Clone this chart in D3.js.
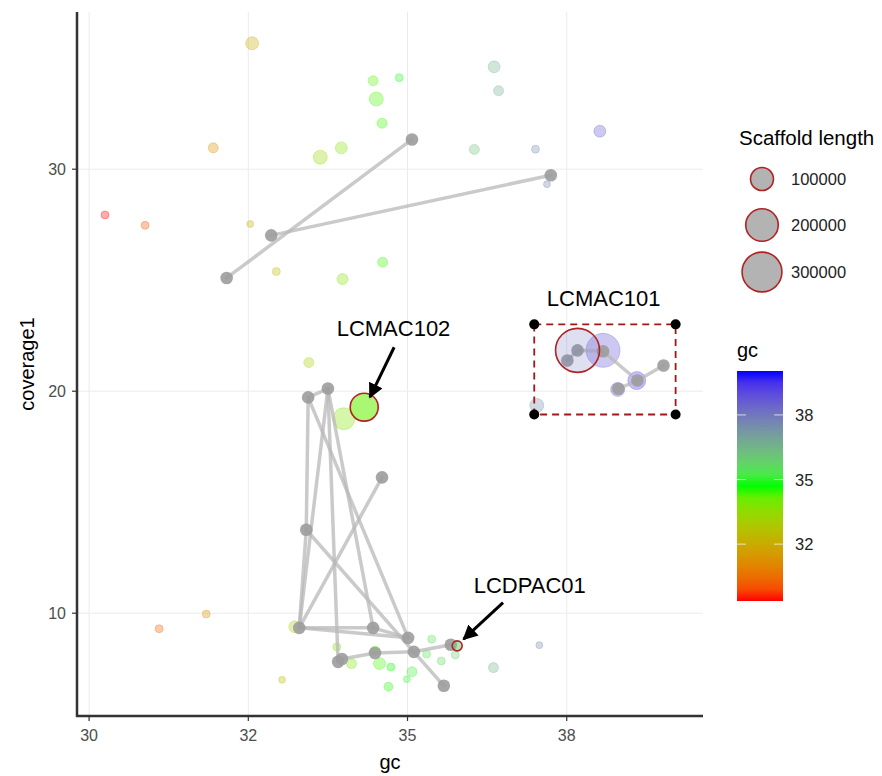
<!DOCTYPE html>
<html>
<head>
<meta charset="utf-8">
<script src="https://cdn.jsdelivr.net/npm/d3@7"></script>
<style>
  html, body { margin: 0; padding: 0; background: #fff; }
  svg { display: block; font-family: "Liberation Sans", Arial, sans-serif; }
</style>
</head>
<body>
<svg id="chart" width="882" height="776"></svg>
<script>
// scaffolds: [gc, coverage1, scaffold length]
const scaffolds = [
  [32.56, 35.67, 32000], [34.46, 33.98, 19000], [34.51, 33.16, 37000], [34.60, 32.07, 19000],
  [31.95, 30.96, 19000], [33.63, 30.54, 37000], [33.96, 30.96, 27000], [30.25, 27.94, 12000],
  [30.88, 27.47, 12000], [32.53, 27.53, 9000], [32.94, 25.39, 12000], [33.98, 25.05, 23000],
  [34.61, 25.81, 19000], [34.87, 34.12, 12000], [36.36, 34.61, 27000], [36.43, 33.53, 19000],
  [36.05, 30.89, 19000], [37.01, 30.90, 12000], [38.02, 31.71, 27000], [37.19, 29.32, 9000],
  [33.45, 21.29, 19000], [34.00, 18.76, 91000], [37.03, 19.36, 37000], [38.07, 21.84, 218000],
  [38.30, 20.08, 37000], [38.60, 20.48, 61000], [31.84, 9.96, 12000], [31.10, 9.30, 12000],
  [33.03, 7.00, 9000], [35.38, 8.83, 12000], [35.30, 8.16, 12000], [35.53, 7.85, 12000],
  [35.75, 8.12, 12000], [35.07, 7.36, 19000], [34.99, 7.03, 9000], [34.70, 6.69, 15000],
  [34.56, 7.73, 27000], [34.74, 7.58, 12000], [34.12, 7.73, 19000], [33.89, 8.48, 12000],
  [34.49, 8.30, 19000], [33.23, 9.39, 27000], [36.35, 7.55, 19000], [37.07, 8.56, 9000]
];

const highlighted = [
  { name: 'LCMAC102', gc: 34.32, cov: 19.28, len: 148000 },
  { name: 'LCMAC101', gc: 37.67, cov: 21.84, len: 366000 },
  { name: 'LCDPAC01', gc: 35.78, cov: 8.53, len: 19000 }
];

// grey linked scaffolds: [id, gc, coverage1]
const linkedNodes = [
  ['T1', 32.16, 25.10], ['T2', 35.07, 31.34], ['T3', 32.86, 27.02], ['T4', 37.25, 29.73],
  ['B1', 37.51, 21.38], ['B2', 37.67, 21.84], ['B3', 38.07, 21.80], ['B4', 38.31, 20.11],
  ['B5', 38.61, 20.48], ['B6', 39.02, 21.16],
  ['P1', 33.44, 19.72], ['P2', 33.75, 20.12], ['P3', 34.60, 16.12], ['P4', 33.41, 13.76],
  ['P5', 33.30, 9.34], ['P6', 34.46, 9.34], ['P7', 35.01, 8.89], ['P8', 35.10, 8.26],
  ['P9', 34.49, 8.21], ['P10', 33.91, 7.81], ['P11', 35.57, 6.73], ['P12', 35.68, 8.58],
  ['P13', 33.97, 7.94]
];

const linkedSegments = [
  ['T1', 'T2'], ['T3', 'T4'],
  ['B1', 'B2'], ['B2', 'B3'], ['B3', 'B5'], ['B4', 'B5'], ['B5', 'B6'],
  ['P1', 'P2'], ['P1', 'P4'], ['P4', 'P5'], ['P2', 'P5'], ['P2', 'P10'], ['P1', 'P7'],
  ['P2', 'P6'], ['P3', 'P5'], ['P4', 'P11'], ['P5', 'P6'], ['P5', 'P7'], ['P6', 'P7'],
  ['P13', 'P9'], ['P9', 'P8'], ['P8', 'P12']
];

// dashed selection box around LCMAC101
const boxGc = [36.99, 39.21];
const boxCov = [18.95, 23.01];

// label text position and arrow (from -> to), in data units
const annotations = [
  { label: 'LCMAC102', gc: 34.78, cov: 22.84, arrow: [[34.79, 21.98], [34.41, 19.73]] },
  { label: 'LCMAC101', gc: 38.08, cov: 24.18, arrow: null },
  { label: 'LCDPAC01', gc: 36.92, cov: 11.24, arrow: [[36.50, 10.48], [35.88, 8.83]] }
];

const xTicks = [30, 32.5, 35, 37.5];
const xTickLabels = ['30', '32', '35', '38'];
const yTicks = [10, 20, 30];
const yTickLabels = ['10', '20', '30'];
const gcBarTicks = [32.5, 35, 37.5];
const gcBarLabels = ['32', '35', '38'];
const sizeLegend = [100000, 200000, 300000];

const svg = d3.select('#chart');
const panel = { left: 77, right: 703, top: 12, bottom: 716 };

const x = d3.scaleLinear().domain([29.81, 39.64]).range([panel.left, panel.right]);
const y = d3.scaleLinear().domain([5.37, 37.08]).range([panel.bottom, panel.top]);
const r = d3.scaleSqrt().domain([0, 100000]).range([0, 11.5]);
const gcRange = [30.3, 39.2];
const colour = d3.scaleLinear()
  .domain([gcRange[0], (gcRange[0] + gcRange[1]) / 2, gcRange[1]])
  .range(['#ff0000', '#00ff00', '#0000ff'])
  .interpolate(d3.interpolateLab);

// grid
const grid = svg.append('g').attr('stroke', '#ebebeb').attr('stroke-width', 1);
grid.selectAll('line.gx').data(xTicks).enter().append('line')
  .attr('x1', (d) => x(d)).attr('x2', (d) => x(d))
  .attr('y1', panel.top).attr('y2', panel.bottom);
grid.selectAll('line.gy').data(yTicks).enter().append('line')
  .attr('y1', (d) => y(d)).attr('y2', (d) => y(d))
  .attr('x1', panel.left).attr('x2', panel.right);

// coloured scaffold points
svg.append('g').selectAll('circle').data(scaffolds).enter().append('circle')
  .attr('cx', (d) => x(d[0])).attr('cy', (d) => y(d[1])).attr('r', (d) => r(d[2]))
  .attr('fill', (d) => colour(d[0])).attr('fill-opacity', 0.33)
  .attr('stroke', (d) => colour(d[0])).attr('stroke-opacity', 0.3).attr('stroke-width', 1);

// grey links
const nodeById = new Map(linkedNodes.map((d) => [d[0], d]));
svg.append('g').selectAll('line').data(linkedSegments).enter().append('line')
  .attr('x1', (d) => x(nodeById.get(d[0])[1])).attr('y1', (d) => y(nodeById.get(d[0])[2]))
  .attr('x2', (d) => x(nodeById.get(d[1])[1])).attr('y2', (d) => y(nodeById.get(d[1])[2]))
  .attr('stroke', '#b8b8b8').attr('stroke-opacity', 0.75).attr('stroke-width', 3.5)
  .attr('stroke-linecap', 'round');
svg.append('g').selectAll('circle').data(linkedNodes).enter().append('circle')
  .attr('cx', (d) => x(d[1])).attr('cy', (d) => y(d[2])).attr('r', 6.3)
  .attr('fill', '#9c9c9c').attr('fill-opacity', 0.9);

// highlighted scaffolds, on top
svg.append('g').selectAll('circle').data(highlighted).enter().append('circle')
  .attr('cx', (d) => x(d.gc)).attr('cy', (d) => y(d.cov)).attr('r', (d) => r(d.len))
  .attr('fill', (d) => colour(d.gc))
  .attr('fill-opacity', (d) => (d.name === 'LCMAC102' ? 0.55 : (d.name === 'LCDPAC01' ? 0.5 : 0.22)))
  .attr('stroke', '#b22222').attr('stroke-width', 1.6);

// dashed box
svg.append('rect')
  .attr('x', x(boxGc[0])).attr('y', y(boxCov[1]))
  .attr('width', x(boxGc[1]) - x(boxGc[0])).attr('height', y(boxCov[0]) - y(boxCov[1]))
  .attr('fill', 'none').attr('stroke', '#a01818').attr('stroke-width', 1.8)
  .attr('stroke-dasharray', '7,5');
const corners = [];
boxGc.forEach((g) => boxCov.forEach((c) => corners.push([g, c])));
svg.append('g').selectAll('circle').data(corners).enter().append('circle')
  .attr('cx', (d) => x(d[0])).attr('cy', (d) => y(d[1])).attr('r', 5).attr('fill', '#000');

// annotations
svg.append('defs').append('marker')
  .attr('id', 'head').attr('viewBox', '0 0 10 10').attr('refX', 9).attr('refY', 5)
  .attr('markerWidth', 5).attr('markerHeight', 5).attr('markerUnits', 'strokeWidth')
  .attr('orient', 'auto')
  .append('path').attr('d', 'M0,0 L10,5 L0,10 z').attr('fill', '#000');
const ann = svg.append('g');
ann.selectAll('text').data(annotations).enter().append('text')
  .attr('x', (d) => x(d.gc)).attr('y', (d) => y(d.cov))
  .attr('text-anchor', 'middle').attr('dominant-baseline', 'central')
  .attr('font-size', 22).attr('fill', '#000').text((d) => d.label);
ann.selectAll('line').data(annotations.filter((d) => d.arrow)).enter().append('line')
  .attr('x1', (d) => x(d.arrow[0][0])).attr('y1', (d) => y(d.arrow[0][1]))
  .attr('x2', (d) => x(d.arrow[1][0])).attr('y2', (d) => y(d.arrow[1][1]))
  .attr('stroke', '#000').attr('stroke-width', 3).attr('marker-end', 'url(#head)');

// axes
const axisCol = '#333';
svg.append('line').attr('x1', panel.left).attr('x2', panel.left)
  .attr('y1', panel.top).attr('y2', panel.bottom + 1).attr('stroke', axisCol).attr('stroke-width', 2.5);
svg.append('line').attr('x1', panel.left - 1).attr('x2', panel.right)
  .attr('y1', panel.bottom).attr('y2', panel.bottom).attr('stroke', axisCol).attr('stroke-width', 2.5);

const xt = svg.append('g');
xt.selectAll('line').data(xTicks).enter().append('line')
  .attr('x1', (d) => x(d)).attr('x2', (d) => x(d))
  .attr('y1', panel.bottom).attr('y2', panel.bottom + 5).attr('stroke', axisCol).attr('stroke-width', 1.2);
xt.selectAll('text').data(xTicks).enter().append('text')
  .attr('x', (d) => x(d)).attr('y', panel.bottom + 25).attr('text-anchor', 'middle')
  .attr('font-size', 16).attr('fill', '#4d4d4d').text((d, i) => xTickLabels[i]);

const yt = svg.append('g');
yt.selectAll('line').data(yTicks).enter().append('line')
  .attr('y1', (d) => y(d)).attr('y2', (d) => y(d))
  .attr('x1', panel.left - 5).attr('x2', panel.left).attr('stroke', axisCol).attr('stroke-width', 1.2);
yt.selectAll('text').data(yTicks).enter().append('text')
  .attr('x', panel.left - 11).attr('y', (d) => y(d)).attr('text-anchor', 'end')
  .attr('dominant-baseline', 'central')
  .attr('font-size', 16).attr('fill', '#4d4d4d').text((d, i) => yTickLabels[i]);

svg.append('text').attr('x', (panel.left + panel.right) / 2).attr('y', 769)
  .attr('text-anchor', 'middle').attr('font-size', 20).text('gc');
svg.append('text').attr('transform', `translate(34, ${(panel.top + panel.bottom) / 2}) rotate(-90)`)
  .attr('text-anchor', 'middle').attr('font-size', 20).text('coverage1');

// size legend
svg.append('text').attr('x', 739).attr('y', 145).attr('font-size', 20.5).text('Scaffold length');
const sizeY = [179, 225, 272];
const sl = svg.append('g');
sl.selectAll('circle').data(sizeLegend).enter().append('circle')
  .attr('cx', 762).attr('cy', (d, i) => sizeY[i]).attr('r', (d) => r(d))
  .attr('fill', '#b3b3b3').attr('stroke', '#b22222').attr('stroke-width', 1.6);
sl.selectAll('text').data(sizeLegend).enter().append('text')
  .attr('x', 791).attr('y', (d, i) => sizeY[i]).attr('dominant-baseline', 'central')
  .attr('font-size', 16.5).attr('fill', '#222').text((d) => d);

// colour bar legend
svg.append('text').attr('x', 737).attr('y', 357).attr('font-size', 20).text('gc');
const bar = { x: 737, w: 46, top: 371, bottom: 601 };
const barY = d3.scaleLinear().domain(gcRange).range([bar.bottom, bar.top]);
const grad = svg.select('defs').append('linearGradient')
  .attr('id', 'gcgrad').attr('x1', 0).attr('y1', 1).attr('x2', 0).attr('y2', 0);
grad.selectAll('stop').data(d3.range(0, 1.0001, 0.05)).enter().append('stop')
  .attr('offset', (d) => d)
  .attr('stop-color', (d) => colour(gcRange[0] + d * (gcRange[1] - gcRange[0])));
svg.append('rect').attr('x', bar.x).attr('y', bar.top).attr('width', bar.w)
  .attr('height', bar.bottom - bar.top).attr('fill', 'url(#gcgrad)');
const bt = svg.append('g');
gcBarTicks.forEach((t, i) => {
  bt.append('line').attr('x1', bar.x).attr('x2', bar.x + 9).attr('y1', barY(t)).attr('y2', barY(t))
    .attr('stroke', '#fff').attr('stroke-opacity', 0.7).attr('stroke-width', 1);
  bt.append('line').attr('x1', bar.x + bar.w - 9).attr('x2', bar.x + bar.w).attr('y1', barY(t)).attr('y2', barY(t))
    .attr('stroke', '#fff').attr('stroke-opacity', 0.7).attr('stroke-width', 1);
  bt.append('text').attr('x', 795).attr('y', barY(t)).attr('dominant-baseline', 'central')
    .attr('font-size', 16.5).attr('fill', '#222').text(gcBarLabels[i]);
});
</script>
</body>
</html>
